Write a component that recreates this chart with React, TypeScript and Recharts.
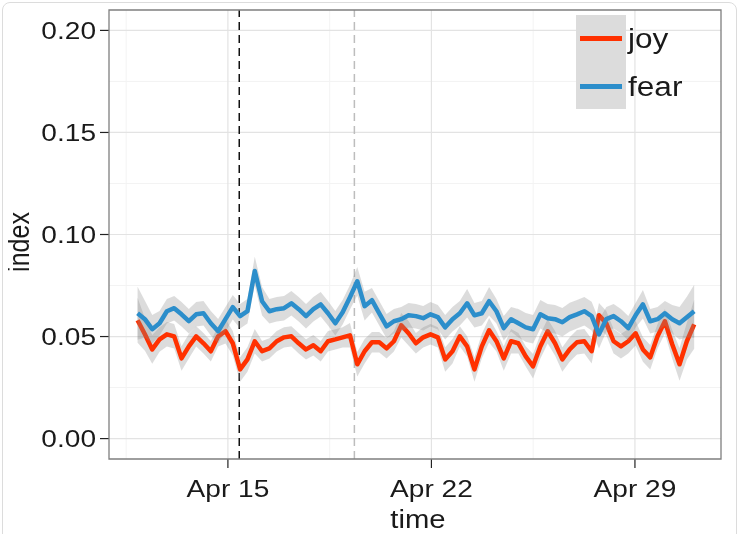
import React from 'react';
import { ComposedChart, Line, Area, XAxis, YAxis, ReferenceLine, ReferenceArea } from 'recharts';

const FONT = '"Liberation Sans", Arial, Helvetica, sans-serif';
const STRETCH = 1.17;

// time axis (day of April 2013), sampled every ~6 hours
const START_DAY = 11.893;
const STEP_DAYS = 0.2519;

const xTicks = [15, 22, 29];
const xTickLabels = ['Apr 15', 'Apr 22', 'Apr 29'];
const xMinor = [11.5, 18.5, 25.5];
const yTicks = [0, 0.05, 0.1, 0.15, 0.2];
const yMinor = [0.025, 0.075, 0.125, 0.175];
const eventDays = [15.39, 19.35];
const eventColors = ['#111111', '#bdbdbd'];

const joy = [
  0.058, 0.0511, 0.0437, 0.0486, 0.0511, 0.0501, 0.0393, 0.0452, 0.0501, 0.0467,
  0.0428, 0.0501, 0.0526, 0.0467, 0.0339, 0.0388, 0.0477, 0.0428, 0.0442, 0.0477,
  0.0496, 0.0501, 0.0467, 0.0437, 0.0457, 0.0428, 0.0477, 0.0486, 0.0496, 0.0506,
  0.0364, 0.0428, 0.0472, 0.0472, 0.0442, 0.0477, 0.0555, 0.0516, 0.0467, 0.0496,
  0.0511, 0.0496, 0.0388, 0.0428, 0.0501, 0.0452, 0.0339, 0.0452, 0.0531, 0.0477,
  0.0393, 0.0477, 0.0467, 0.0403, 0.0354, 0.0452, 0.0526, 0.0467, 0.0388, 0.0437,
  0.0472, 0.0477, 0.0428, 0.0604, 0.0565, 0.0477, 0.0452, 0.0477, 0.0516, 0.0437,
  0.0398, 0.0501, 0.0575, 0.0462, 0.0364, 0.0477, 0.056,
];

const fear = [
  0.0614, 0.0585, 0.0536, 0.0565, 0.0624, 0.0639, 0.0609, 0.0575, 0.0609, 0.0614,
  0.0565, 0.0526, 0.0585, 0.0644, 0.06, 0.0624, 0.0821, 0.0673, 0.0624, 0.0634,
  0.0639, 0.0663, 0.0634, 0.06, 0.0634, 0.0658, 0.0614, 0.0565, 0.0619, 0.0693,
  0.0771, 0.0649, 0.0678, 0.0614, 0.055, 0.0575, 0.0585, 0.0604, 0.06, 0.059,
  0.0609, 0.0595, 0.0545, 0.0585, 0.0614, 0.0663, 0.0604, 0.0614, 0.0673, 0.0624,
  0.0541, 0.0585, 0.0565, 0.0545, 0.0536, 0.0609, 0.059, 0.0585, 0.057, 0.0595,
  0.0609, 0.0624, 0.06, 0.0511, 0.0585, 0.06, 0.0575, 0.0541, 0.0604, 0.0658,
  0.0575, 0.0585, 0.0614, 0.0585, 0.0565, 0.0595, 0.0624,
];

// half-width of the grey confidence ribbons
const joySpread = [
  0.011, 0.008, 0.007, 0.006, 0.006, 0.006, 0.006, 0.006, 0.005, 0.005,
  0.005, 0.005, 0.006, 0.006, 0.006, 0.006, 0.006, 0.005, 0.005, 0.005,
  0.005, 0.005, 0.005, 0.005, 0.005, 0.005, 0.005, 0.005, 0.005, 0.006,
  0.006, 0.006, 0.005, 0.005, 0.005, 0.005, 0.006, 0.006, 0.005, 0.005,
  0.005, 0.005, 0.006, 0.006, 0.005, 0.005, 0.006, 0.006, 0.006, 0.005,
  0.006, 0.006, 0.005, 0.005, 0.006, 0.006, 0.006, 0.006, 0.006, 0.006,
  0.006, 0.006, 0.006, 0.006, 0.006, 0.006, 0.006, 0.006, 0.006, 0.006,
  0.006, 0.006, 0.006, 0.007, 0.008, 0.009, 0.012,
];

const fearSpread = [
  0.013, 0.009, 0.007, 0.006, 0.006, 0.006, 0.006, 0.006, 0.006, 0.006,
  0.006, 0.006, 0.006, 0.006, 0.006, 0.006, 0.007, 0.007, 0.006, 0.006,
  0.006, 0.006, 0.006, 0.006, 0.006, 0.006, 0.006, 0.006, 0.006, 0.006,
  0.007, 0.007, 0.006, 0.006, 0.006, 0.006, 0.006, 0.006, 0.006, 0.006,
  0.006, 0.006, 0.006, 0.006, 0.006, 0.007, 0.006, 0.006, 0.007, 0.006,
  0.006, 0.006, 0.007, 0.007, 0.007, 0.007, 0.007, 0.007, 0.007, 0.007,
  0.007, 0.007, 0.007, 0.007, 0.006, 0.006, 0.006, 0.006, 0.006, 0.007,
  0.006, 0.006, 0.006, 0.007, 0.008, 0.01, 0.013,
];

const data = joy.map((j, i) => {
  const f = fear[i];
  return {
    t: START_DAY + i * STEP_DAYS,
    joy: j,
    fear: f,
    joyBand: [j - joySpread[i], j + joySpread[i]],
    fearBand: [f - fearSpread[i], f + fearSpread[i]],
  };
});

const X_DOMAIN: [number, number] = [10.91, 31.96];
const Y_DOMAIN: [number, number] = [-0.01, 0.21];

const JOY_COLOR = '#FF3100';
const FEAR_COLOR = '#2C8ECB';

const XTick = (props: any) => {
  const { x, y, payload } = props;
  const idx = xTicks.indexOf(payload.value);
  return (
    <g transform={`translate(${x},${y})`}>
      <text transform={`scale(${STRETCH},1)`} x={0} y={0} dy={25} textAnchor="middle" fontSize={24} fontFamily={FONT} fill="#1a1a1a">
        {idx >= 0 ? xTickLabels[idx] : ''}
      </text>
    </g>
  );
};

const YTick = (props: any) => {
  const { x, y, payload } = props;
  return (
    <g transform={`translate(${x},${y})`}>
      <text transform={`scale(${STRETCH},1)`} x={0} y={0} dy={8.5} textAnchor="end" fontSize={24} fontFamily={FONT} fill="#1a1a1a">
        {Number(payload.value).toFixed(2)}
      </text>
    </g>
  );
};

const textBase: React.CSSProperties = {
  position: 'absolute',
  fontFamily: FONT,
  color: '#1a1a1a',
  lineHeight: 1,
  whiteSpace: 'nowrap',
};

export default function App() {
  return (
    <div style={{ position: 'relative', width: 731, height: 526 }}>
      <div
        style={{
          position: 'fixed',
          left: 2,
          top: 2,
          width: 733,
          height: 600,
          border: '1px solid #dcdcdc',
          borderRadius: 8,
          pointerEvents: 'none',
        }}
      />
      <ComposedChart width={731} height={526} data={data} margin={{ top: 2, right: 18, bottom: 0, left: 0 }}>
        <XAxis
          type="number"
          dataKey="t"
          domain={X_DOMAIN}
          ticks={xTicks}
          interval={0}
          allowDataOverflow
          height={75}
          tickSize={9}
          tickMargin={4}
          axisLine={false}
          tickLine={{ stroke: '#222', strokeWidth: 1.2 }}
          tick={XTick}
        />
        <YAxis
          type="number"
          domain={Y_DOMAIN}
          ticks={yTicks}
          interval={0}
          allowDataOverflow
          width={101}
          tickSize={9}
          tickMargin={4}
          axisLine={false}
          tickLine={{ stroke: '#222', strokeWidth: 1.2 }}
          tick={YTick}
        />
        {yMinor.map((v) => (
          <ReferenceLine key={`ym${v}`} y={v} stroke="#f3f3f3" strokeWidth={1} zIndex={-60} />
        ))}
        {xMinor.map((v) => (
          <ReferenceLine key={`xm${v}`} x={v} stroke="#f3f3f3" strokeWidth={1} zIndex={-60} />
        ))}
        {yTicks.map((v) => (
          <ReferenceLine key={`yM${v}`} y={v} stroke="#e3e3e3" strokeWidth={1.2} zIndex={-50} />
        ))}
        {xTicks.map((v) => (
          <ReferenceLine key={`xM${v}`} x={v} stroke="#e3e3e3" strokeWidth={1.2} zIndex={-50} />
        ))}
        {eventDays.map((v, i) => (
          <ReferenceLine key={`ev${v}`} x={v} stroke={eventColors[i]} strokeWidth={1.5} strokeDasharray="8 5" zIndex={-40} />
        ))}
        <Area
          type="linear"
          dataKey="joyBand"
          stroke="none"
          fill="#8c8c8c"
          fillOpacity={0.3}
          isAnimationActive={false}
          dot={false}
          activeDot={false}
          legendType="none"
          zIndex={100}
        />
        <Line
          type="linear"
          dataKey="joy"
          stroke={JOY_COLOR}
          strokeWidth={4.5}
          strokeLinejoin="round"
          dot={false}
          activeDot={false}
          isAnimationActive={false}
          zIndex={101}
        />
        <Area
          type="linear"
          dataKey="fearBand"
          stroke="none"
          fill="#8c8c8c"
          fillOpacity={0.3}
          isAnimationActive={false}
          dot={false}
          activeDot={false}
          legendType="none"
          zIndex={102}
        />
        <Line
          type="linear"
          dataKey="fear"
          stroke={FEAR_COLOR}
          strokeWidth={4.5}
          strokeLinejoin="round"
          dot={false}
          activeDot={false}
          isAnimationActive={false}
          zIndex={103}
        />
        <ReferenceArea
          x1={X_DOMAIN[0]}
          x2={X_DOMAIN[1]}
          y1={Y_DOMAIN[0]}
          y2={Y_DOMAIN[1]}
          fill="none"
          fillOpacity={0}
          stroke="#7f7f7f"
          strokeWidth={1.3}
          ifOverflow="visible"
          zIndex={500}
        />
      </ComposedChart>

      {/* axis titles */}
      <div style={{ ...textBase, left: 410, top: 499, fontSize: 25, transform: `translateX(-50%) scale(${STRETCH},1)` }}>time</div>
      <div
        style={{
          ...textBase,
          left: 11,
          top: 234,
          fontSize: 25,
          transform: `translate(-50%,-50%) scale(${STRETCH},1) rotate(-90deg)`,
        }}
      >
        index
      </div>

      {/* legend */}
      <div style={{ position: 'absolute', left: 568, top: 7, width: 50, height: 94, background: '#dcdcdc' }} />
      <div style={{ position: 'absolute', left: 572, top: 28, width: 42, height: 5, background: JOY_COLOR }} />
      <div style={{ position: 'absolute', left: 572, top: 76, width: 42, height: 5, background: FEAR_COLOR }} />
      <div style={{ ...textBase, left: 620, top: 18, fontSize: 27, transformOrigin: '0 0', transform: `scale(${STRETCH},1)` }}>joy</div>
      <div style={{ ...textBase, left: 620, top: 66, fontSize: 27, transformOrigin: '0 0', transform: `scale(${STRETCH},1)` }}>fear</div>
    </div>
  );
}
